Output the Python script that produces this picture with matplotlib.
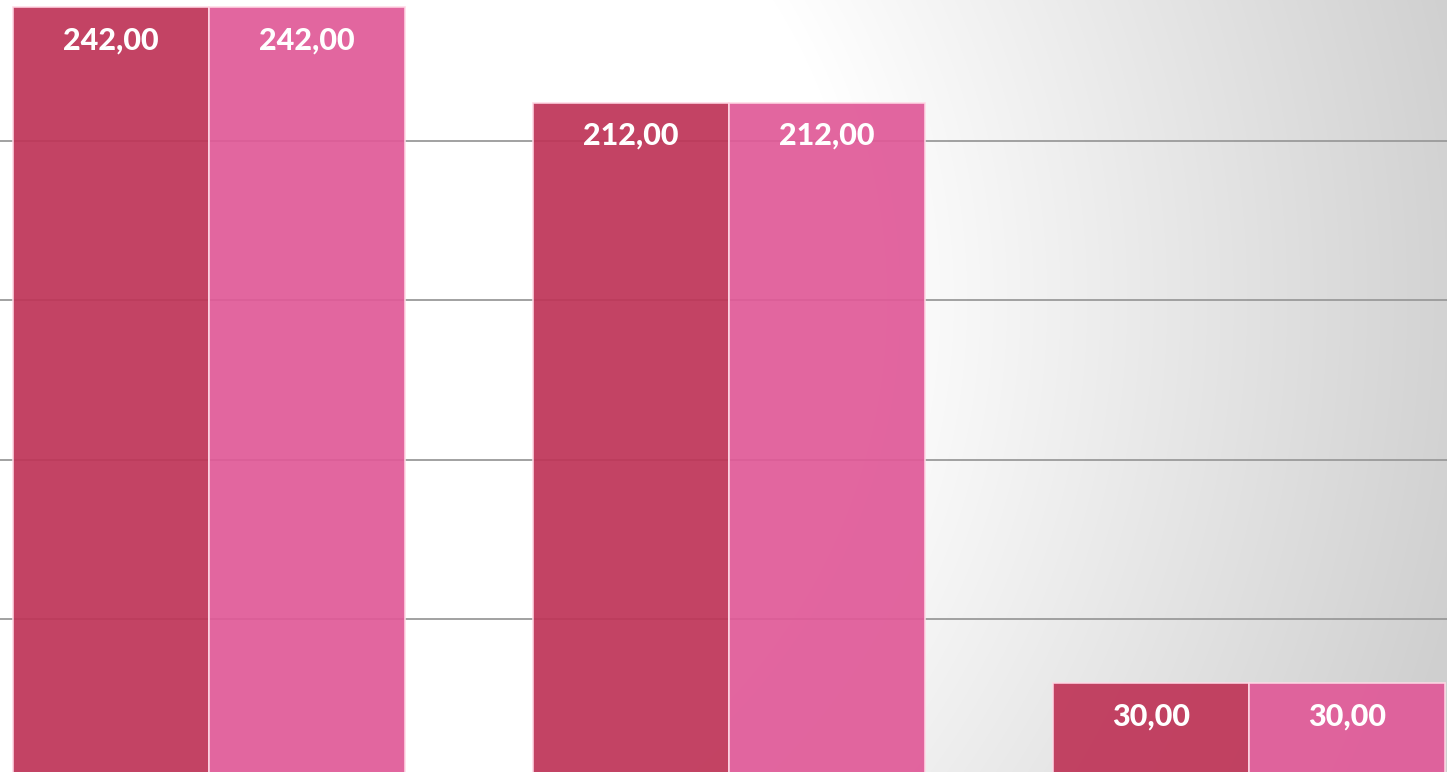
import numpy as np
import matplotlib
matplotlib.use("Agg")
import matplotlib.pyplot as plt

# données
categories = ["A", "B", "C"]
serie_1 = [242, 212, 30]
serie_2 = [242, 212, 30]
etiquettes_1 = ["242,00", "212,00", "30,00"]
etiquettes_2 = ["242,00", "212,00", "30,00"]

W, H = 1447, 772
fig = plt.figure(figsize=(W / 100, H / 100), dpi=100)

# fond : dégradé radial blanc -> gris
bg = fig.add_axes([0, 0, 1, 1])
yy, xx = np.mgrid[0:H, 0:W]
r = np.hypot(xx - 300, yy - 300)
t = np.clip((r - 560) / 640, 0, 1)
g = (255 - 48 * t) / 255
bg.imshow(np.dstack([g, g, g]), aspect="auto", extent=[0, 1, 0, 1])
bg.set_axis_off()

ax = fig.add_axes([0, 0, 1, 1])
ax.patch.set_alpha(0)
x = np.arange(len(categories))
w = 196 / 520
ax.bar(x - w / 2, serie_1, width=w, color="#bf3558", alpha=0.93,
       edgecolor=(1, 0.85, 0.9, 0.8), linewidth=1.2, zorder=2)
ax.bar(x + w / 2, serie_2, width=w, color="#e05a98", alpha=0.93,
       edgecolor=(1, 0.85, 0.9, 0.8), linewidth=1.2, zorder=2)

for xi, v, s in zip(x - w / 2, serie_1, etiquettes_1):
    ax.annotate(s, (xi, v), xytext=(0, -24), textcoords="offset points",
                ha="center", va="center", color="white", fontsize=22,
                fontweight=900, family="Lato", zorder=3)
for xi, v, s in zip(x + w / 2, serie_2, etiquettes_2):
    ax.annotate(s, (xi, v), xytext=(0, -24), textcoords="offset points",
                ha="center", va="center", color="white", fontsize=22,
                fontweight=900, family="Lato", zorder=3)

ax.set_xlim(-209 / 520, (W - 209) / 520)
ax.set_ylim(2.0, 244.2)
ax.set_yticks([50, 100, 150, 200])
ax.yaxis.grid(True, color="#9a9a9a", linewidth=1.3, zorder=1)
ax.set_axisbelow(True)
ax.tick_params(left=False, bottom=False, labelleft=False, labelbottom=False)
for sp in ax.spines.values():
    sp.set_visible(False)

fig.savefig("out.png", dpi=100)
